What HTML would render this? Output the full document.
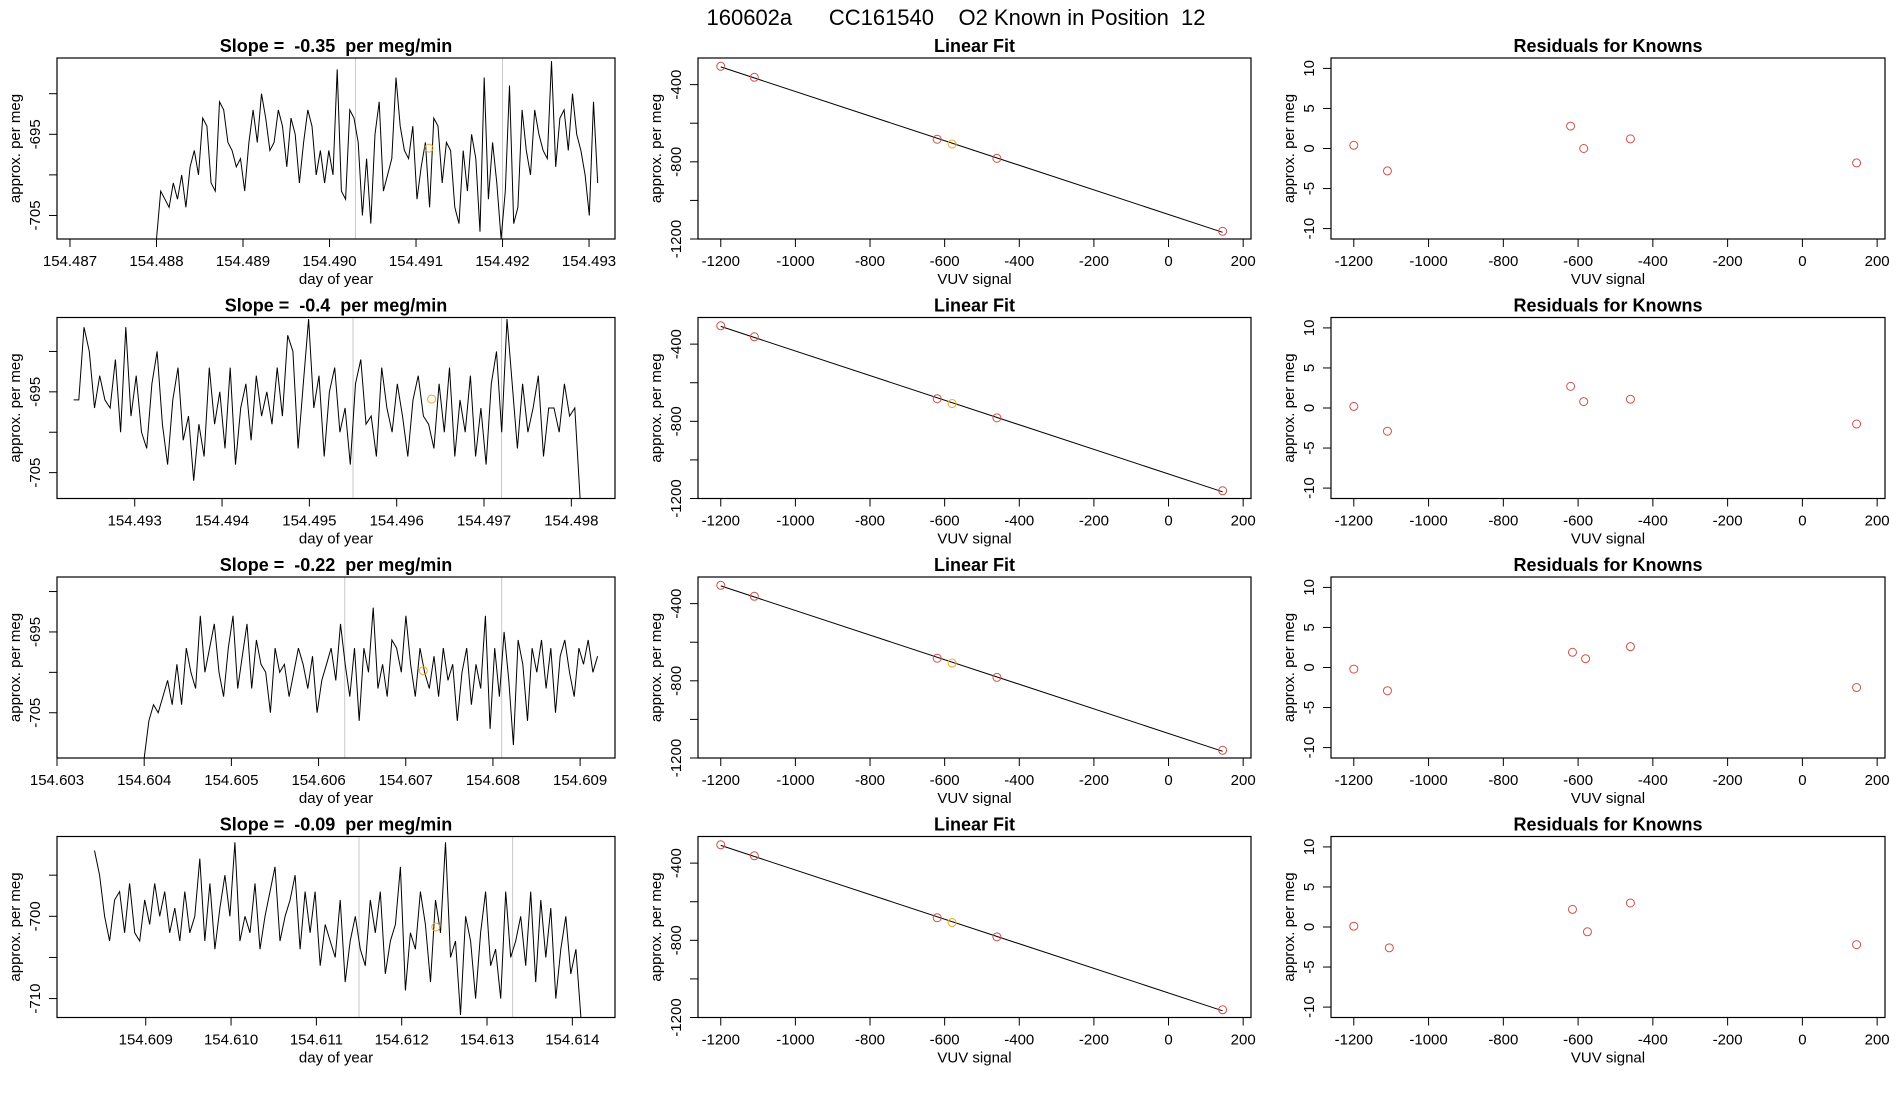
<!DOCTYPE html>
<html><head><meta charset="utf-8">
<style>
html,body{margin:0;padding:0;background:#fff;}
svg{display:block;font-family:"Liberation Sans",sans-serif;}
svg text{white-space:pre;}
</style></head>
<body>
<svg id="fig" width="1900" height="1100" viewBox="0 0 1900 1100">
<text x="956" y="25" font-size="22" text-anchor="middle">160602a      CC161540    O2 Known in Position  12</text>
</svg>
<script>
// ---------- data ----------
const slopeLabels = ["-0.35", "-0.4", "-0.22", "-0.09"];
const tsStart = [154.4880, 154.4923, 154.6040, 154.6084];
const tsEnd = [154.4931, 154.4981, 154.6092, 154.6141];
const tsXMin = [154.48685, 154.49211, 154.6030, 154.60796];
const tsXMax = [154.4933, 154.4985, 154.6094, 154.6145];
const tsYMin = [-707.9, -708.2, -710.6, -712.3];
const tsYMax = [-685.6, -685.8, -688.2, -690.3];
const tsXTicks = [
  [154.487,154.488,154.489,154.490,154.491,154.492,154.493],
  [154.493,154.494,154.495,154.496,154.497,154.498],
  [154.603,154.604,154.605,154.606,154.607,154.608,154.609],
  [154.609,154.610,154.611,154.612,154.613,154.614]
];
const tsYTicks = [[-690,-695,-700,-705],[-690,-695,-700,-705],[-690,-695,-700,-705],[-695,-700,-705,-710]];
const tsYTickLabels = [["","-695","","-705"],["","-695","","-705"],["","-695","","-705"],["","-700","","-710"]];
const greyLines = [[154.4903,154.4920],[154.4955,154.4972],[154.6063,154.6081],[154.6115,154.6133]];
const orangePts = [[154.49115,-696.7],[154.4964,-695.9],[154.6072,-699.8],[154.6124,-701.3]];
const ts1 = [-708,-702,-703,-704,-701,-703,-700,-704,-699,-697,-700,-693,-694,-701,-702,-691,-692,-696,-697,-699,-698,-702,-696,-692,-696,-690,-693,-697,-696,-692,-694,-699,-693,-695,-701,-696,-692,-694,-700,-697,-701,-697,-700,-687,-702,-703,-692,-693,-696,-705,-698,-706,-695,-691,-702,-700,-698,-688,-694,-697,-698,-694,-703,-699,-696,-704,-693,-694,-701,-696,-697,-704,-706,-697,-702,-695,-698,-707,-688,-703,-696,-701,-708,-702,-689,-706,-704,-692,-697,-700,-692,-695,-697,-698,-686,-699,-693,-692,-697,-690,-695,-697,-700,-705,-691,-701];
const ts2 = [-696,-696,-687,-690,-697,-693,-696,-697,-691,-700,-687,-698,-693,-700,-702,-694,-690,-699,-704,-696,-692,-701,-698,-706,-699,-703,-692,-699,-695,-702,-692,-704,-697,-694,-701,-693,-698,-695,-699,-692,-698,-688,-690,-702,-694,-686,-697,-693,-703,-695,-692,-700,-697,-704,-694,-691,-699,-698,-703,-692,-697,-700,-694,-698,-703,-696,-693,-698,-699,-702,-694,-700,-692,-703,-696,-700,-693,-703,-697,-704,-694,-690,-700,-686,-694,-702,-694,-700,-697,-693,-703,-697,-697,-700,-694,-698,-697,-709];
const ts3 = [-711,-706,-704,-705,-703,-701,-704,-699,-704,-697,-700,-702,-693,-700,-697,-694,-700,-703,-697,-693,-702,-698,-694,-702,-696,-699,-700,-705,-697,-700,-699,-703,-700,-697,-699,-702,-698,-705,-701,-699,-697,-701,-694,-699,-703,-697,-706,-697,-700,-692,-702,-699,-703,-696,-697,-700,-693,-699,-703,-697,-700,-702,-698,-703,-697,-701,-699,-706,-700,-697,-704,-699,-702,-693,-707,-697,-703,-695,-701,-709,-696,-699,-706,-697,-700,-696,-702,-697,-705,-698,-696,-700,-703,-697,-699,-696,-700,-698];
const ts4 = [-692,-695,-700,-703,-698,-697,-702,-696,-702,-703,-698,-701,-696,-700,-697,-702,-699,-703,-697,-702,-700,-693,-703,-696,-704,-699,-695,-700,-691,-703,-700,-702,-696,-704,-700,-697,-694,-703,-700,-698,-695,-704,-697,-702,-697,-706,-701,-703,-705,-698,-708,-703,-700,-704,-706,-698,-702,-697,-707,-703,-701,-694,-709,-702,-704,-697,-701,-708,-698,-702,-691,-705,-703,-712,-700,-703,-710,-702,-697,-706,-704,-710,-697,-705,-703,-700,-706,-697,-708,-698,-705,-699,-710,-704,-700,-707,-704,-713];
const tsSeries = [ts1, ts2, ts3, ts4];

const fitX = [-1200,-1110,-620,-580,-460,145];
const fitY = [[-305,-362,-683,-708,-782,-1160],[-305,-362,-683,-708,-782,-1160],[-305,-362,-683,-708,-782,-1160],[-305,-362,-683,-708,-782,-1160]];
const fitOrangeIdx = 3;
const fitXTicks = [-1200,-1000,-800,-600,-400,-200,0,200];
const fitYTicks = [-400,-600,-800,-1000,-1200];
const fitYTickLabels = ["-400","","-800","","-1200"];

const resX = [[-1200,-1110,-620,-585,-460,145],[-1200,-1110,-620,-585,-460,145],[-1200,-1110,-615,-580,-460,145],[-1200,-1105,-615,-575,-460,145]];
const resY = [[0.4,-2.8,2.8,0,1.2,-1.8],[0.2,-2.9,2.7,0.8,1.1,-2.0],[-0.2,-2.9,1.9,1.1,2.6,-2.5],[0.1,-2.6,2.2,-0.6,3.0,-2.2]];
const resYTicks = [10,5,0,-5,-10];

// ---------- drawing ----------
const NS = "http://www.w3.org/2000/svg";
const svg = document.getElementById("fig");
function mk(tag, attrs, parent){
  const e = document.createElementNS(NS, tag);
  for (const k in attrs) e.setAttribute(k, attrs[k]);
  (parent||svg).appendChild(e);
  return e;
}
const colX = [[57,615],[698,1251],[1331,1885]];
const rowTop0 = 58, rowStep = 259.5, boxH = 181;

function panel(ci, ri, xmin, xmax, ymin, ymax, name){
  const [L,R] = colX[ci];
  const T = rowTop0 + ri*rowStep, B = T + boxH;
  const g = mk("g", {});
  
  
  const sx = v => L + (v - xmin)/(xmax - xmin)*(R - L);
  const sy = v => B - (v - ymin)/(ymax - ymin)*(B - T);
  return {g, L, R, T, B, sx, sy};
}
function frame(p, title, xticks, xlabels, yticks, ylabels, xlab, ylab){
  const box = mk("rect", {x:p.L, y:p.T, width:p.R-p.L, height:p.B-p.T, fill:"none", stroke:"#000", "stroke-width":1.2}, p.g);
  
  
  const t = mk("text", {x:(p.L+p.R)/2, y:p.T-6, "font-size":18, "font-weight":"bold", "text-anchor":"middle"}, p.g);
  t.textContent = title;
  
  
  const xa = mk("g", {}, p.g);
  
  
  const x0 = p.sx(xticks[0]), x1 = p.sx(xticks[xticks.length-1]);
  mk("line", {x1:x0, x2:x1, y1:p.B, y2:p.B, stroke:"#000"}, xa);
  xticks.forEach((v,i)=>{
    const x = p.sx(v);
    mk("line", {x1:x, x2:x, y1:p.B, y2:p.B+8, stroke:"#000"}, xa);
    const tl = mk("text", {x:x, y:p.B+27, "font-size":15, "text-anchor":"middle"}, xa);
    tl.textContent = xlabels[i];
    
    
  });
  const xl = mk("text", {x:(p.L+p.R)/2, y:p.B+45, "font-size":15, "text-anchor":"middle"}, p.g);
  xl.textContent = xlab;
  
  
  const ya = mk("g", {}, p.g);
  
  
  const yA = p.sy(yticks[0]), yB = p.sy(yticks[yticks.length-1]);
  mk("line", {x1:p.L, x2:p.L, y1:yA, y2:yB, stroke:"#000"}, ya);
  yticks.forEach((v,i)=>{
    const y = p.sy(v);
    mk("line", {x1:p.L-8, x2:p.L, y1:y, y2:y, stroke:"#000"}, ya);
    if (ylabels[i]) {
      const tl = mk("text", {x:0, y:0, "font-size":15, "text-anchor":"middle", transform:`translate(${p.L-17},${y}) rotate(-90)`}, ya);
      tl.textContent = ylabels[i];
      
      
    }
  });
  const yl = mk("text", {x:0, y:0, "font-size":15, "text-anchor":"middle", transform:`translate(${p.L-37},${(p.T+p.B)/2}) rotate(-90)`}, p.g);
  yl.textContent = ylab;
  
  
}

for (let r=0; r<4; r++){
  // time series
  const p = panel(0, r, tsXMin[r], tsXMax[r], tsYMin[r], tsYMax[r], "time-series-panel");
  greyLines[r].forEach(v=>{
    const gl = mk("line", {x1:p.sx(v), x2:p.sx(v), y1:p.T, y2:p.B, stroke:"#c8c8c8", "stroke-width":1}, p.g);
    
    
  });
  const s = tsSeries[r];
  const pts = s.map((v,i)=>{
    const x = tsStart[r] + (tsEnd[r]-tsStart[r])*i/(s.length-1);
    const yy = Math.min(Math.max(v, tsYMin[r]), tsYMax[r]);
    return p.sx(x).toFixed(1)+","+p.sy(yy).toFixed(1);
  }).join(" ");
  const line = mk("polyline", {points:pts, fill:"none", stroke:"#000", "stroke-width":1}, p.g);
  
  
  const oc = mk("circle", {cx:p.sx(orangePts[r][0]), cy:p.sy(orangePts[r][1]), r:4, fill:"none", stroke:"#f5a623", "stroke-width":1}, p.g);
  
  
  frame(p, "Slope =  " + slopeLabels[r] + "  per meg/min", tsXTicks[r], tsXTicks[r].map(v=>v.toFixed(3)), tsYTicks[r], tsYTickLabels[r], "day of year", "approx. per meg");

  // linear fit
  const q = panel(1, r, -1261, 221, -1200, -262, "linear-fit-panel");
  const n = fitX.length;
  let mx=0,my=0; for(let i=0;i<n;i++){mx+=fitX[i];my+=fitY[r][i];} mx/=n; my/=n;
  let sxy=0,sxx=0; for(let i=0;i<n;i++){sxy+=(fitX[i]-mx)*(fitY[r][i]-my);sxx+=(fitX[i]-mx)**2;}
  const b = sxy/sxx, a = my - b*mx;
  const xa0 = Math.min(...fitX), xa1 = Math.max(...fitX);
  const fl = mk("line", {x1:q.sx(xa0), y1:q.sy(a+b*xa0), x2:q.sx(xa1), y2:q.sy(a+b*xa1), stroke:"#000", "stroke-width":1}, q.g);
  
  
  fitX.forEach((v,i)=>{
    const c = mk("circle", {cx:q.sx(v), cy:q.sy(fitY[r][i]), r:4, fill:"none", stroke: i===fitOrangeIdx ? "#f5a623" : "#d0504a", "stroke-width":1}, q.g);
    
    
  });
  frame(q, "Linear Fit", fitXTicks, fitXTicks.map(String), fitYTicks, fitYTickLabels, "VUV signal", "approx. per meg");

  // residuals
  const rp = panel(2, r, -1261, 221, -11.3, 11.3, "residuals-panel");
  resX[r].forEach((v,i)=>{
    const c = mk("circle", {cx:rp.sx(v), cy:rp.sy(resY[r][i]), r:4, fill:"none", stroke:"#d0504a", "stroke-width":1}, rp.g);
    
    
  });
  frame(rp, "Residuals for Knowns", fitXTicks, fitXTicks.map(String), resYTicks, resYTicks.map(String), "VUV signal", "approx. per meg");
}
</script>
</body></html>
